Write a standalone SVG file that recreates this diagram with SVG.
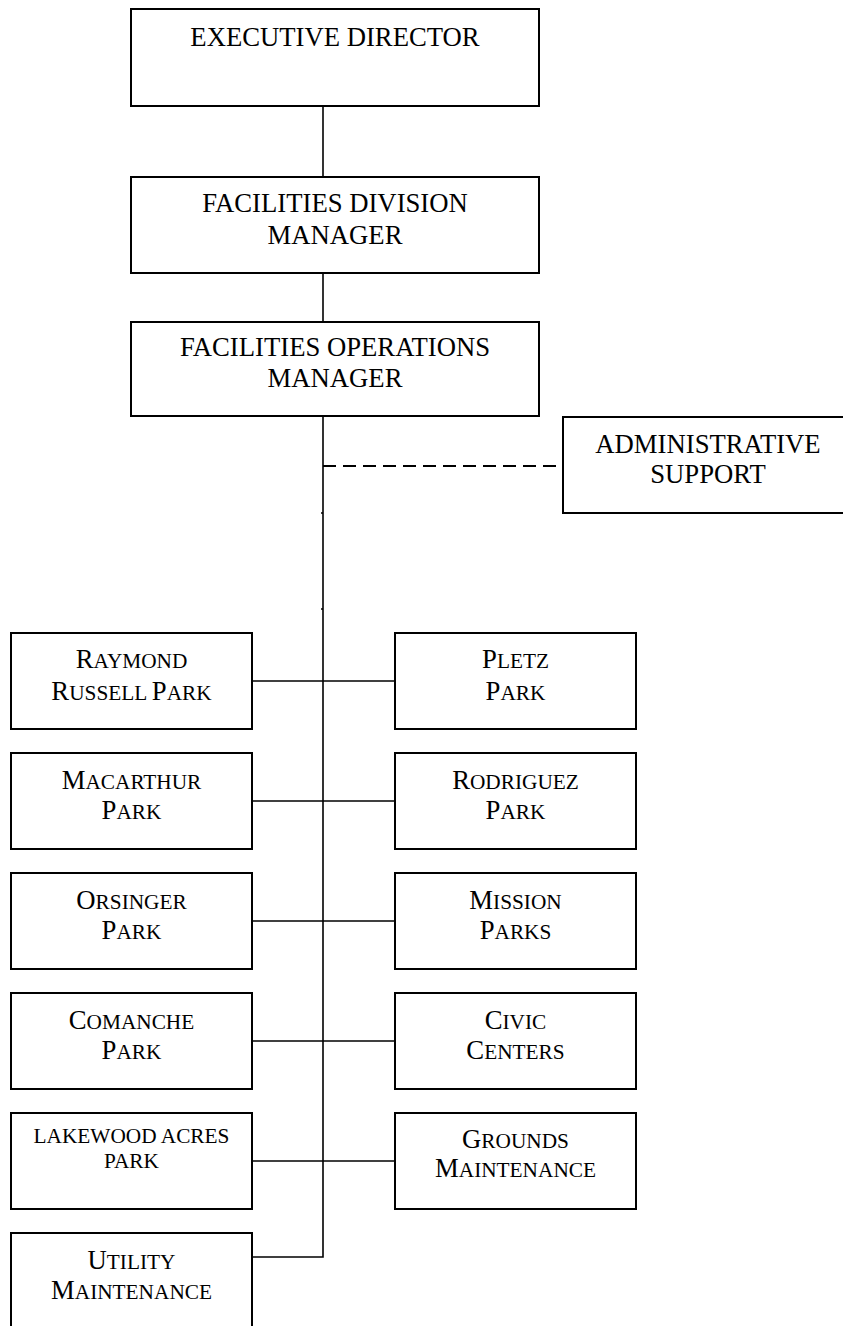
<svg xmlns="http://www.w3.org/2000/svg" width="843" height="1326" viewBox="0 0 843 1326">
  <style>
    .box { fill: #ffffff; stroke: #000000; stroke-width: 2; }
    .ln { fill: none; stroke: #000000; stroke-width: 1.6; }
    .dash { fill: none; stroke: #000000; stroke-width: 2; stroke-dasharray: 13 7; }
    text { font-family: "Liberation Serif", "Times New Roman", serif; font-size: 26.7px; fill: #000000; text-anchor: middle; }
    .sc { font-size: 21.3px; }
  </style>
  <rect width="843" height="1326" fill="#ffffff"/>

  <!-- connectors -->
  <g id="connectors">
    <line class="ln" x1="323" y1="106" x2="323" y2="177"/>
    <line class="ln" x1="323" y1="273" x2="323" y2="322"/>
    <polyline class="ln" points="323,416 323,1257 252,1257"/>
    <line class="dash" x1="323" y1="466" x2="561" y2="466"/>
    <line class="ln" x1="321" y1="513" x2="323" y2="513"/>
    <line class="ln" x1="321" y1="609" x2="323" y2="609"/>
    <line class="ln" x1="252" y1="681" x2="395" y2="681"/>
    <line class="ln" x1="252" y1="801" x2="395" y2="801"/>
    <line class="ln" x1="252" y1="921" x2="395" y2="921"/>
    <line class="ln" x1="252" y1="1041" x2="395" y2="1041"/>
    <line class="ln" x1="252" y1="1161" x2="395" y2="1161"/>
  </g>

  <g id="executive-director">
    <rect class="box" x="131" y="9" width="408" height="97"/>
    <text x="335" y="46">EXECUTIVE DIRECTOR</text>
  </g>

  <g id="facilities-division-manager">
    <rect class="box" x="131" y="177" width="408" height="96"/>
    <text x="335" y="212">FACILITIES DIVISION</text>
    <text x="335" y="244">MANAGER</text>
  </g>

  <g id="facilities-operations-manager">
    <rect class="box" x="131" y="322" width="408" height="94"/>
    <text x="335" y="356">FACILITIES OPERATIONS</text>
    <text x="335" y="387">MANAGER</text>
  </g>

  <g id="administrative-support">
    <rect class="box" x="563" y="417" width="290" height="96"/>
    <text x="708" y="453">ADMINISTRATIVE</text>
    <text x="708" y="483">SUPPORT</text>
  </g>

  <g id="raymond-russell-park">
    <rect class="box" x="11" y="633" width="241" height="96"/>
    <text x="131.5" y="668">R<tspan class="sc">AYMOND</tspan></text>
    <text x="131.5" y="700">R<tspan class="sc">USSELL </tspan>P<tspan class="sc">ARK</tspan></text>
  </g>

  <g id="pletz-park">
    <rect class="box" x="395" y="633" width="241" height="96"/>
    <text x="515.5" y="668">P<tspan class="sc">LETZ</tspan></text>
    <text x="515.5" y="700">P<tspan class="sc">ARK</tspan></text>
  </g>

  <g id="macarthur-park">
    <rect class="box" x="11" y="753" width="241" height="96"/>
    <text x="131.5" y="789">M<tspan class="sc">ACARTHUR</tspan></text>
    <text x="131.5" y="819">P<tspan class="sc">ARK</tspan></text>
  </g>

  <g id="rodriguez-park">
    <rect class="box" x="395" y="753" width="241" height="96"/>
    <text x="515.5" y="789">R<tspan class="sc">ODRIGUEZ</tspan></text>
    <text x="515.5" y="819">P<tspan class="sc">ARK</tspan></text>
  </g>

  <g id="orsinger-park">
    <rect class="box" x="11" y="873" width="241" height="96"/>
    <text x="131.5" y="909">O<tspan class="sc">RSINGER</tspan></text>
    <text x="131.5" y="939">P<tspan class="sc">ARK</tspan></text>
  </g>

  <g id="mission-parks">
    <rect class="box" x="395" y="873" width="241" height="96"/>
    <text x="515.5" y="909">M<tspan class="sc">ISSION</tspan></text>
    <text x="515.5" y="939">P<tspan class="sc">ARKS</tspan></text>
  </g>

  <g id="comanche-park">
    <rect class="box" x="11" y="993" width="241" height="96"/>
    <text x="131.5" y="1029">C<tspan class="sc">OMANCHE</tspan></text>
    <text x="131.5" y="1059">P<tspan class="sc">ARK</tspan></text>
  </g>

  <g id="civic-centers">
    <rect class="box" x="395" y="993" width="241" height="96"/>
    <text x="515.5" y="1029">C<tspan class="sc">IVIC</tspan></text>
    <text x="515.5" y="1059">C<tspan class="sc">ENTERS</tspan></text>
  </g>

  <g id="lakewood-acres-park">
    <rect class="box" x="11" y="1113" width="241" height="96"/>
    <text class="sc" x="131.5" y="1143">LAKEWOOD ACRES</text>
    <text class="sc" x="131.5" y="1168">PARK</text>
  </g>

  <g id="grounds-maintenance">
    <rect class="box" x="395" y="1113" width="241" height="96"/>
    <text x="515.5" y="1148">G<tspan class="sc">ROUNDS</tspan></text>
    <text x="515.5" y="1177">M<tspan class="sc">AINTENANCE</tspan></text>
  </g>

  <g id="utility-maintenance">
    <rect class="box" x="11" y="1233" width="241" height="100"/>
    <text x="131.5" y="1269">U<tspan class="sc">TILITY</tspan></text>
    <text x="131.5" y="1299">M<tspan class="sc">AINTENANCE</tspan></text>
  </g>
</svg>
